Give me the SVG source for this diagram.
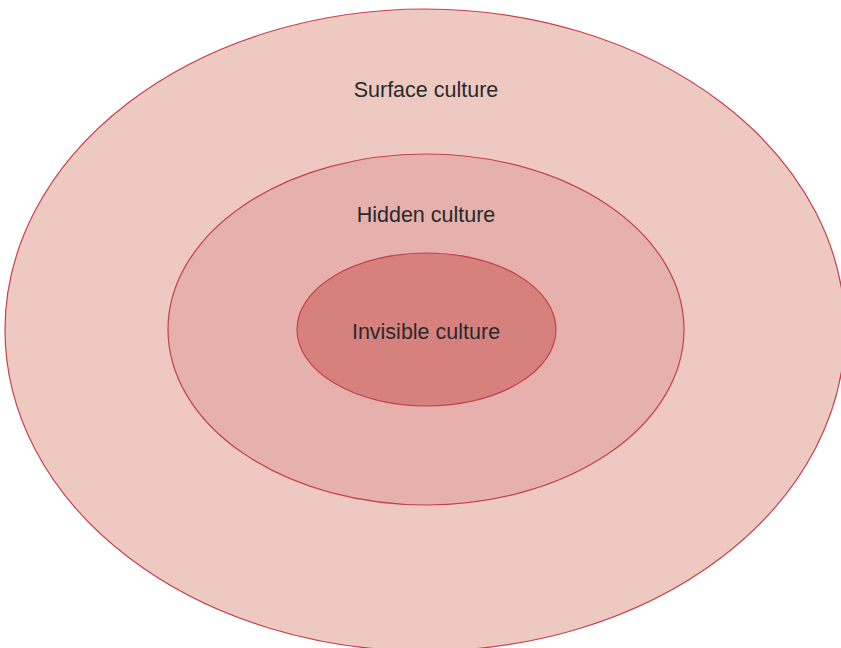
<svg xmlns="http://www.w3.org/2000/svg" width="841" height="648" viewBox="0 0 841 648">
  <style>
    .ring { stroke: #c8404b; stroke-width: 1.2; }
    .label { font-family: "Liberation Sans", Arial, sans-serif; font-size: 21.5px; fill: #2a2a2a; text-anchor: middle; }
  </style>
  <rect width="841" height="648" fill="#ffffff"/>
  <g id="surface">
    <ellipse class="ring" cx="425" cy="330" rx="420" ry="321" fill="#eec9c2"/>
    <text class="label" x="426" y="97">Surface culture</text>
  </g>
  <g id="hidden">
    <ellipse class="ring" cx="426" cy="329.5" rx="258" ry="175.5" fill="#e6b1ac"/>
    <text class="label" x="426" y="222">Hidden culture</text>
  </g>
  <g id="invisible">
    <ellipse class="ring" cx="426.5" cy="329.5" rx="129.5" ry="76.5" fill="#d6817d"/>
    <text class="label" x="426" y="339">Invisible culture</text>
  </g>
  <g id="connectors"/>
</svg>
